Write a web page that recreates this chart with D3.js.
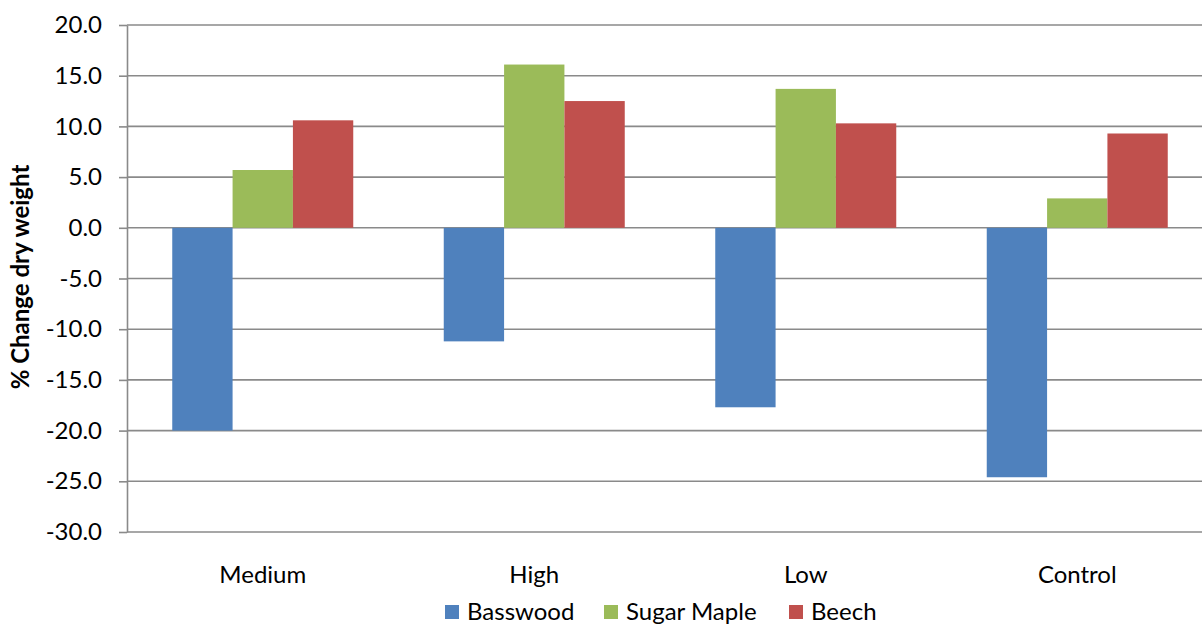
<!DOCTYPE html>
<html>
<head>
<meta charset="utf-8">
<script src="https://cdn.jsdelivr.net/npm/d3@7"></script>
<style>
  body { margin: 0; background: #fff; }
  svg { display: block; font-family: Lato, "Open Sans", sans-serif; }
</style>
</head>
<body>
<div class="chart"></div>
<script>
// treatments on the x axis
var categories = ["Medium", "High", "Low", "Control"];
var seriesNames = ["Basswood", "Sugar Maple", "Beech"];
var basswood = [-20.0, -11.2, -17.7, -24.6];
var sugarMaple = [5.7, 16.1, 13.7, 2.9];
var beech = [10.6, 12.5, 10.3, 9.3];
var yTicks = [20, 15, 10, 5, 0, -5, -10, -15, -20, -25, -30];
var colors = ["#4F81BD", "#9BBB59", "#C0504D"];

var width = 1202, height = 625,
  plot = {left: 127, right: 1213, top: 25, bottom: 532};

var models = categories.map((c, i) => ({
  cat: c,
  values: [basswood[i], sugarMaple[i], beech[i]]
}));

var svg = d3.select(".chart").append("svg")
  .attr("width", width)
  .attr("height", height);

var xScale0 = d3.scaleBand().domain(categories).range([plot.left, plot.right]).padding(0);
var xScale1 = d3.scaleBand().domain(seriesNames).range([0, xScale0.bandwidth()])
  .paddingInner(0).paddingOuter(0.75);
var yScale = d3.scaleLinear().domain([-30, 20]).range([plot.bottom, plot.top]);

// gridlines
svg.append("g")
  .selectAll("line")
  .data(yTicks)
  .enter().append("line")
  .attr("x1", plot.left)
  .attr("x2", width)
  .attr("y1", d => yScale(d))
  .attr("y2", d => yScale(d))
  .attr("stroke", "#8a8a8a")
  .attr("stroke-width", 1.6);

// bars
var group = svg.selectAll(".cat")
  .data(models)
  .enter().append("g")
  .attr("class", "cat")
  .attr("transform", d => `translate(${xScale0(d.cat)},0)`);

group.selectAll("rect")
  .data(d => d.values.map((v, i) => ({name: seriesNames[i], v: v, i: i})))
  .enter().append("rect")
  .attr("x", d => xScale1(d.name))
  .attr("width", xScale1.bandwidth())
  .attr("y", d => yScale(Math.max(0, d.v)))
  .attr("height", d => Math.abs(yScale(d.v) - yScale(0)))
  .style("fill", d => colors[d.i]);

// y axis (plain hyphen for negatives, like the original)
var yAxis = d3.axisLeft(yScale).tickValues(yTicks).tickSize(8).tickSizeOuter(0)
  .tickPadding(17).tickFormat(d => d.toFixed(1));
var yg = svg.append("g")
  .attr("transform", `translate(${plot.left},0)`)
  .call(yAxis);
yg.select(".domain").attr("stroke", "#8a8a8a").attr("stroke-width", 1.6);
yg.selectAll(".tick line").attr("stroke", "#8a8a8a").attr("stroke-width", 1.6);
yg.selectAll("text")
  .attr("fill", "#000")
  .style("font-size", "24px")
  .style("font-family", "Lato, sans-serif");

// category labels
svg.append("g")
  .selectAll("text")
  .data(categories)
  .enter().append("text")
  .attr("x", d => xScale0(d) + xScale0.bandwidth() / 2)
  .attr("y", 583)
  .attr("text-anchor", "middle")
  .style("font-size", "24px")
  .text(d => d);

// y axis title
svg.append("text")
  .attr("text-anchor", "middle")
  .attr("transform", "translate(29,277)rotate(-90)")
  .style("font-size", "24px")
  .style("font-weight", "bold")
  .text("% Change dry weight");

// legend
var legendX = [445, 604, 789];
var legend = svg.selectAll(".legend")
  .data(seriesNames)
  .enter().append("g")
  .attr("class", "legend")
  .attr("transform", (d, i) => `translate(${legendX[i]},605)`);

legend.append("rect")
  .attr("width", 14)
  .attr("height", 14)
  .style("fill", (d, i) => colors[i]);

legend.append("text")
  .attr("x", 22)
  .attr("y", 15)
  .style("font-size", "24px")
  .text(d => d);
</script>
</body>
</html>
